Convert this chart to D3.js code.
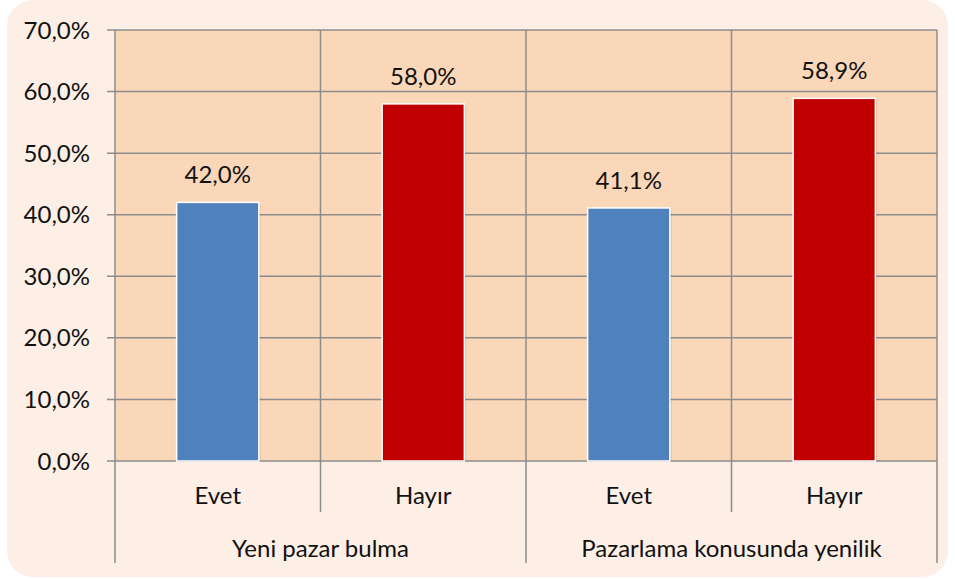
<!DOCTYPE html>
<html>
<head>
<meta charset="utf-8">
<script src="https://cdn.jsdelivr.net/npm/d3@7"></script>
<style>
  body { margin: 0; background: #fff; }
  svg { font-family: Lato, "Open Sans", sans-serif; }
</style>
</head>
<body>
<svg width="955" height="579"></svg>
<script>
// data
var groups = ["Yeni pazar bulma", "Pazarlama konusunda yenilik"];
var answers = ["Evet", "Hayır"];
var values = [42.0, 58.0, 41.1, 58.9];
var yTicks = [0, 10, 20, 30, 40, 50, 60, 70];

var width = 955;
var height = 579;
var margin = { left: 115, right: 18, top: 30, bottom: 118 };
var fontSize = 24;

var svg = d3.select("svg");

// background card
svg.append("rect")
  .attr("x", 7).attr("y", 0)
  .attr("width", 941).attr("height", 577)
  .attr("rx", 26).attr("ry", 26)
  .attr("fill", "#fdefe6");

var cats = [];
groups.forEach(function (g) {
  answers.forEach(function (a) { cats.push(g + "|" + a); });
});

var xScale = d3.scaleBand()
  .domain(cats)
  .range([margin.left, width - margin.right]);

var xGroup = d3.scaleBand()
  .domain(groups)
  .range([margin.left, width - margin.right]);

var yScale = d3.scaleLinear()
  .domain([0, 70])
  .range([height - margin.bottom, margin.top]);

var y0 = yScale(0);

// plot area
svg.append("rect")
  .attr("x", margin.left).attr("y", margin.top)
  .attr("width", width - margin.left - margin.right)
  .attr("height", y0 - margin.top)
  .attr("fill", "#fbd7b9");

var gridColor = "#8c8c8c";

// horizontal grid
svg.append("g")
  .selectAll("line")
  .data(yTicks)
  .enter().append("line")
  .attr("x1", margin.left - 8)
  .attr("x2", width - margin.right)
  .attr("y1", function (d) { return yScale(d); })
  .attr("y2", function (d) { return yScale(d); })
  .attr("stroke", gridColor).attr("stroke-width", 1.5);

// vertical grid (category boundaries)
var bounds = cats.map(function (c) { return xScale(c); })
  .concat([width - margin.right]);
svg.append("g")
  .selectAll("line")
  .data(bounds)
  .enter().append("line")
  .attr("x1", function (d) { return d; })
  .attr("x2", function (d) { return d; })
  .attr("y1", margin.top)
  .attr("y2", function (d, i) { return (i % 2 === 0) ? 563 : 512; })
  .attr("stroke", gridColor).attr("stroke-width", 1.5);

// y labels
svg.append("g")
  .selectAll("text")
  .data(yTicks)
  .enter().append("text")
  .attr("x", 90)
  .attr("y", function (d) { return yScale(d); })
  .attr("dy", "0.36em")
  .attr("text-anchor", "end")
  .attr("font-size", fontSize)
  .attr("fill", "#111")
  .text(function (d) { return d.toFixed(1).replace(".", ",") + "%"; });

// bars
var colors = ["#4f81bd", "#c00000"];
var bw = xScale.bandwidth() * 0.4;
var bars = svg.append("g");
cats.forEach(function (c, i) {
  var cx = xScale(c) + xScale.bandwidth() / 2;
  var v = values[i];
  bars.append("rect")
    .attr("x", cx - bw / 2 + 2).attr("y", yScale(v) + 2)
    .attr("width", bw).attr("height", y0 - yScale(v) - 2)
    .attr("fill", "rgba(0,0,0,0.08)");
  bars.append("rect")
    .attr("x", cx - bw / 2).attr("y", yScale(v))
    .attr("width", bw).attr("height", y0 - yScale(v))
    .attr("fill", colors[i % 2])
    .attr("stroke", "#fff").attr("stroke-width", 1.5);
  bars.append("text")
    .attr("x", cx).attr("y", yScale(v) - 28)
    .attr("dy", "0.36em")
    .attr("text-anchor", "middle")
    .attr("font-size", fontSize)
    .attr("fill", "#111")
    .text(v.toFixed(1).replace(".", ",") + "%");
  bars.append("text")
    .attr("x", cx).attr("y", 495)
    .attr("dy", "0.36em")
    .attr("text-anchor", "middle")
    .attr("font-size", fontSize)
    .attr("fill", "#111")
    .text(answers[i % 2]);
});

// group labels
svg.append("g")
  .selectAll("text")
  .data(groups)
  .enter().append("text")
  .attr("x", function (d) { return xGroup(d) + xGroup.bandwidth() / 2; })
  .attr("y", 548)
  .attr("dy", "0.36em")
  .attr("text-anchor", "middle")
  .attr("font-size", fontSize)
  .attr("fill", "#111")
  .text(function (d) { return d; });
</script>
</body>
</html>
